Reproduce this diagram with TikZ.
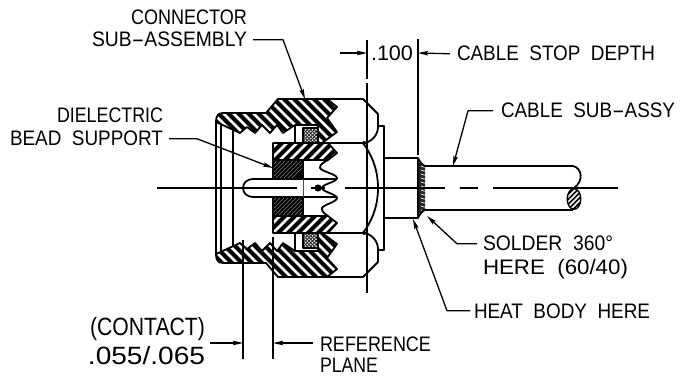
\documentclass[tikz,border=0pt]{standalone}
\usepackage{fontspec}
\setmainfont{Liberation Sans}
\usetikzlibrary{arrows.meta}
\tikzset{
  lab/.style={anchor=base west,inner sep=0pt,outer sep=0pt},
  main/.style={line width=1.8pt,line join=round},
  thin line/.style={line width=1.4pt},
  lead/.style={line width=1.3pt,line join=round,-{Stealth[length=10pt,width=4.5pt,inset=1.5pt]}},
}
% label: name, x-left, baseline, width, size, text
\newcommand\DimLabel[6]{%
  \node[lab] (#1) at (#2,#3) {%
    \setbox0\hbox{\fontsize{#5}{#5}\selectfont #6}%
    \pgfmathsetmacro\labratio{#4/\the\wd0}%
    \scalebox{\labratio}[1]{\box0}};}
\newcommand\LongHy{\scalebox{2}[1]{-}}
% hatched shape: path, slope, period, stripe width
\newcommand\Hatched[4]{%
  \fill[black] #1;
  \begin{scope}
    \clip #1;
    \foreach \t in {-200,-190,...,700}
      \draw[white,line width=#4] ({\t*#3/10},0) -- ({\t*#3/10+#2*400},400);
  \end{scope}
  \draw[main] #1;}
% one half of the section; #1 = +1 upper, -1 mirrored
\newcommand\ConnHalf[1]{%
  % bore lines
  \draw[main] (221,123) -- (221,188);
  \draw[main] (233,129) -- (233,188);
  % nut
  \Hatched{(216,122) .. controls (216,116) and (218,113) .. (223,113) -- (266,113) -- (278,99) -- (327,99) -- (337,107) -- (327,118) -- (337,132) -- (322,143) -- (318,143) -- (318,125) -- (295,125) -- (283,133) -- (277,125) -- (270,133) -- (262,125) -- (255,133) -- (247,127) -- (240,133) -- cycle}{#1}{10}{2.5pt}
  % groove and O-ring
  \draw[main] (295,125) -- (295,143);
  \fill[white] (303,128) rectangle (318,143);
  \begin{scope}
    \clip (303,128) rectangle (318,143);
    \foreach \t in {280,283.5,...,340} {
      \draw[black!85,line width=.8pt] (\t,120) -- (\t+30,150);
      \draw[black!85,line width=.8pt] (\t,150) -- (\t+30,120);
    }
  \end{scope}
  \draw[main] (303,128) rectangle (318,143);
  % collar
  \Hatched{(273,143) -- (328,143) -- (337,153) -- (328,160) -- (273,160) -- cycle}{-#1}{10}{2.5pt}
  % bead
  \fill[black] (273,160) rectangle (303,180);
  \begin{scope}
    \clip (273,160) rectangle (303,180);
    \foreach \t in {200,204,...,340}
      \draw[black!50,line width=.6pt] (\t,130) -- (\t-#1*60,190);
  \end{scope}
  \draw[main] (273,160) rectangle (303,180);
  % hex body
  \draw[main] (327,99) -- (363,99) -- (378,114) -- (378,127) .. controls (378,135) and (371,143) .. (363,143) -- (322,143);
  \draw[main] (363,143) .. controls (372,155) and (378,170) .. (378,188);
  \fill[black] (364,143) circle (2pt);
  % flange and stop
  \draw[main] (378,126) -- (384,126) -- (384,188);
  \draw[main] (384,158) -- (418,158) -- (418,188);
  \draw[main] (418,158) .. controls (420,162) and (422,165) .. (425,166);
  % cable
  \draw[main] (425,166) -- (573,166);
}
\begin{document}
\begin{tikzpicture}[x=1pt,y=-1pt]
\useasboundingbox (0,0) rectangle (681,377);
\fill[white] (0,0) rectangle (681,377);

% solder band
\fill[black!85] (418,162) -- (425,166) -- (425,210) -- (418,214) -- cycle;
\foreach \y in {166,170,...,210}
  \draw[white,line width=.7pt] (421,\y) .. controls (423,\y+.6) and (424,\y+1.6) .. (426,\y+1);

\begin{scope}
  \ConnHalf{1}
\end{scope}
\begin{scope}[shift={(0,376)},yscale=-1]
  \ConnHalf{-1}
\end{scope}

% spine lines
\draw[main] (216,122) -- (216,254);
\draw[main] (253,179) .. controls (247,179) and (243,183) .. (243,188) .. controls (243,193) and (247,197) .. (253,197);
\fill[white] (254,180) rectangle (303,196);
\draw[main] (253,179) -- (337,179);
\draw[main] (253,197) -- (337,197);
\draw[line width=.8pt,black!70] (303,179) -- (303,197);
\fill[white] (304,180) rectangle (318,196);
\draw[main] plot[smooth,tension=.7] coordinates {(328,160) (320,168) (337,178) (322,188) (337,198) (322,208) (328,216)};

% contact dot
\fill[black] (318,188) circle (3.6pt);
\draw[thin line] (311,188) -- (325,188);

% centre line
\draw[thin line] (157,188) -- (297,188);
\draw[thin line] (345,188) -- (445,188);
\draw[thin line] (460,188) -- (478,188);
\draw[thin line] (493,188) -- (618,188);

% cable end
\draw[main] (573,166) .. controls (582,168) and (584,181) .. (574,188);
\draw[main] (425,210) -- (573,210);
\fill[black] (574,199) ellipse (7.5pt and 11pt);
\begin{scope}
  \clip (574,199) ellipse (6pt and 9.5pt);
  \foreach \t in {540,545,...,620}
    \draw[white,line width=1.6pt] (\t,170) -- (\t-40,210) ;
\end{scope}

% extension lines
\draw[thin line] (367,40) -- (367,79);
\draw[thin line] (367,83) -- (367,293);
\draw[thin line] (418,39) -- (418,155);
\draw[thin line] (243,240) -- (243,359);
\draw[thin line] (273,237) -- (273,359);

% labels
\DimLabel{conn}{131}{25}{116}{21}{CONNECTOR}
\DimLabel{subass}{92}{47}{155}{21}{SUB\LongHy ASSEMBLY}
\DimLabel{diel}{57}{123}{106}{21}{DIELECTRIC}
\DimLabel{bead}{10}{146}{153}{21}{BEAD\ \ SUPPORT}
\DimLabel{dimhun}{371}{61}{42}{21}{.100}
\DimLabel{stop}{457}{61}{198}{21}{CABLE\ \ STOP\ \ DEPTH}
\DimLabel{cabsub}{501}{118}{174}{21}{CABLE\ \ SUB\LongHy ASSY}
\DimLabel{contact}{90}{335}{115}{25}{(CONTACT)}
\DimLabel{range}{88}{364}{117}{25}{.055/.065}
\DimLabel{refp}{320}{351}{111}{21}{REFERENCE}
\DimLabel{plane}{320}{372}{58}{21}{PLANE}
\DimLabel{solder}{483}{251}{130}{21}{SOLDER\ \ 360°}
\DimLabel{hereb}{483}{275}{145}{21}{HERE\ \ (60/40)}
\DimLabel{heat}{474}{318}{176}{21}{HEAT\ \ BODY\ \ HERE}

% leaders
\coordinate (tConn) at (305,99);
\coordinate (tBead) at (273,168);
\coordinate (tCable) at (453,166);
\coordinate (tSolder) at (427,216);
\coordinate (tHeat) at (413,219);
\coordinate (dA) at (367,53);
\coordinate (dB) at (418,53);
\coordinate (dC) at (243,343);
\coordinate (dD) at (273,343);
\draw[lead] ([xshift=6pt]subass.east) -- ++(30,0) -- (tConn);
\draw[lead] ([xshift=6pt]bead.east) -- ++(28,0) -- (tBead);
\draw[lead] ([xshift=-8pt]cabsub.west) -- ++(-25,0) -- (tCable);
\draw[lead] ([xshift=-6pt]solder.west) -- ++(-20,0) -- (tSolder);
\draw[lead] ([xshift=-4pt]heat.west) -- ++(-23,0) -- (tHeat);
\draw[lead] (340,53) -- (dA);
\draw[lead] ([xshift=-7pt]stop.west) -- (dB);
\draw[lead] (210,343) -- (dC);
\draw[lead] (313,343) -- (dD);
\end{tikzpicture}
\end{document}
